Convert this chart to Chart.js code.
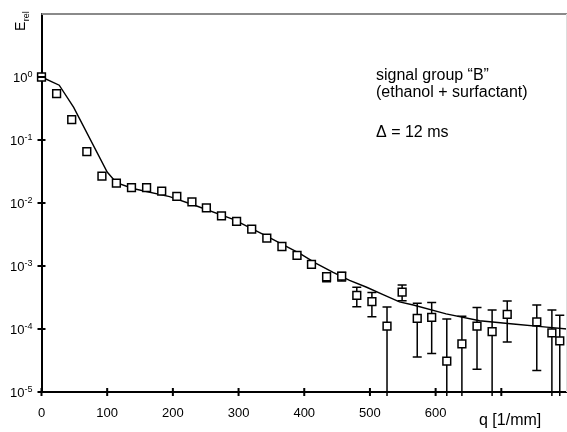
<!DOCTYPE html>
<html>
<head>
<meta charset="utf-8">
<script src="https://cdn.jsdelivr.net/npm/chart.js@4"></script>
<style>
  html, body { margin: 0; padding: 0; background: #fff; }
  #wrap { width: 567px; height: 432px; }
</style>
</head>
<body>
<div id="wrap"><canvas id="chart" width="567" height="432"></canvas></div>
<script>
// measured points (q in 1/mm, relative echo)
const qPoints = [0, 23, 46, 69, 92, 114, 137, 160, 183, 206, 229, 251, 274, 297, 320, 343, 366, 389,
    411, 434, 457, 480, 503, 526, 549, 572, 594, 617, 640, 663, 686, 709, 754, 777, 789];
const eValues = [1.0, 0.546, 0.211, 0.0656, 0.0267, 0.0206, 0.0176, 0.0176, 0.0154, 0.0127, 0.0104,
    0.00838, 0.00625, 0.00509, 0.00385, 0.00277, 0.00204, 0.00147, 0.00106, 0.000675, 0.000692,
    0.000342, 0.000271, 0.000111, 0.000386, 0.000148, 0.000153, 3.1e-5, 5.8e-5, 0.000111, 9.06e-5,
    0.000171, 0.000130, 8.7e-5, 6.5e-5];
// error bar limits (null = no bar, 0 = runs below the axis)
const errHigh = [null, null, null, null, null, null, null, null, null, null, null, null, null, null,
    null, null, null, null, null, 7.6e-4, 7.9e-4, 4.6e-4, 3.8e-4, 2.24e-4, 5.0e-4, 2.56e-4, 2.64e-4,
    1.44e-4, 1.6e-4, 2.2e-4, 2.0e-4, 2.77e-4, 2.4e-4, 2.0e-4, 1.66e-4];
const errLow = [null, null, null, null, null, null, null, null, null, null, null, null, null, null,
    null, null, null, null, null, 5.6e-4, 5.8e-4, 2.25e-4, 1.56e-4, 0, 2.8e-4, 3.6e-5, 4.1e-5,
    0, 0, 2.3e-5, 0, 6.2e-5, 2.2e-5, 0, 0];

// model curve
const fitQ = [0, 27, 49, 100, 114, 139, 195, 232, 292, 342, 393, 418, 444, 469, 495, 520, 545, 566,
    616, 667, 718, 769, 800];
const fitE = [1.0, 0.74, 0.33, 0.031, 0.021, 0.017, 0.0126, 0.0093, 0.0055, 0.0030, 0.00158, 0.0011,
    0.00079, 0.00059, 0.00046, 0.00035, 0.00027, 0.00024, 0.000174, 0.000135, 0.00012, 0.000107, 0.0001];

const xTicks = [0, 100, 200, 300, 400, 500, 600, 700];
const xTickLabels = ['0', '100', '200', '300', '400', '500', '600', ''];
const yTicks = [1e0, 1e-1, 1e-2, 1e-3, 1e-4, 1e-5];
const yTickExps = ['0', '-1', '-2', '-3', '-4', '-5'];

const FONT = '"Liberation Sans", Arial, sans-serif';

// axes decorations, labels, error bars and annotation
const decorPlugin = {
    id: 'decor',
    beforeDatasetsDraw(chart) {
        const { ctx, scales: { x, y } } = chart;
        ctx.save();
        ctx.strokeStyle = '#000';
        ctx.lineWidth = 1.5;
        for (let i = 0; i < qPoints.length; i++) {
            if (errHigh[i] == null) continue;
            const px = x.getPixelForValue(qPoints[i]);
            const top = y.getPixelForValue(errHigh[i]);
            const low = errLow[i] > 0 ? y.getPixelForValue(errLow[i]) : y.bottom + 4;
            ctx.beginPath();
            ctx.moveTo(px, top);
            ctx.lineTo(px, low);
            ctx.moveTo(px - 4.5, top);
            ctx.lineTo(px + 4.5, top);
            if (errLow[i] > 0) {
                ctx.moveTo(px - 4.5, low);
                ctx.lineTo(px + 4.5, low);
            }
            ctx.stroke();
        }
        ctx.restore();
    },
    afterDraw(chart) {
        const { ctx, chartArea: a, scales: { x, y } } = chart;
        ctx.save();
        // grey frame on top and right
        ctx.strokeStyle = '#8a8a8a';
        ctx.lineWidth = 2;
        ctx.beginPath();
        ctx.moveTo(a.left, a.top);
        ctx.lineTo(a.right, a.top);
        ctx.stroke();
        ctx.strokeStyle = '#dddddd';
        ctx.lineWidth = 1;
        ctx.beginPath();
        ctx.moveTo(a.right - 0.5, a.top);
        ctx.lineTo(a.right - 0.5, a.bottom);
        ctx.stroke();

        // tick marks crossing the axes
        ctx.strokeStyle = '#000';
        ctx.lineWidth = 2;
        ctx.beginPath();
        xTicks.forEach(v => {
            const px = x.getPixelForValue(v);
            ctx.moveTo(px, a.bottom - 4);
            ctx.lineTo(px, a.bottom + 4);
        });
        yTicks.forEach(v => {
            const py = y.getPixelForValue(v);
            ctx.moveTo(a.left - 4, py);
            ctx.lineTo(a.left + 4, py);
        });
        ctx.stroke();

        ctx.fillStyle = '#000';
        // x tick labels
        ctx.font = '13px ' + FONT;
        ctx.textAlign = 'center';
        ctx.textBaseline = 'alphabetic';
        xTicks.forEach((v, i) => {
            ctx.fillText(xTickLabels[i], x.getPixelForValue(v), a.bottom + 24.5);
        });
        // y tick labels 10^n
        yTicks.forEach((v, i) => {
            const py = y.getPixelForValue(v);
            ctx.font = '9px ' + FONT;
            const wExp = ctx.measureText(yTickExps[i]).width;
            ctx.font = '13px ' + FONT;
            const wBase = ctx.measureText('10').width;
            const right = a.left - 9;
            ctx.textAlign = 'left';
            ctx.fillText('10', right - wExp - wBase, py + 5);
            ctx.font = '9px ' + FONT;
            ctx.fillText(yTickExps[i], right - wExp, py - 0.5);
        });

        // axis titles
        ctx.textAlign = 'left';
        ctx.font = '16px ' + FONT;
        ctx.fillText('q [1/mm]', 479, 425);

        ctx.save();
        ctx.translate(25, 31);
        ctx.rotate(-Math.PI / 2);
        ctx.font = '14px ' + FONT;
        ctx.fillText('E', 0, 0);
        const wE = ctx.measureText('E').width;
        ctx.font = '9px ' + FONT;
        ctx.fillText('rel', wE + 0.5, 3.5);
        ctx.restore();

        // annotation
        ctx.font = '16px ' + FONT;
        ctx.fillText('signal group \u201CB\u201D', 376, 80);
        ctx.fillText('(ethanol + surfactant)', 376, 97);
        ctx.fillText('\u0394 = 12 ms', 376, 137);
        ctx.restore();
    }
};

new Chart(document.getElementById('chart'), {
    type: 'scatter',
    data: {
        datasets: [
            {
                label: 'model',
                data: fitQ.map((q, i) => ({ x: q, y: fitE[i] })),
                showLine: true,
                borderColor: '#000',
                borderWidth: 1.4,
                pointRadius: 0,
                tension: 0,
                clip: false,
                order: 2
            },
            {
                label: 'signal group B',
                data: qPoints.map((q, i) => ({ x: q, y: eValues[i] })),
                showLine: false,
                pointStyle: 'rect',
                pointRadius: 5.5,
                pointBorderWidth: 1.5,
                pointBorderColor: '#000',
                pointBackgroundColor: '#fff',
                clip: false,
                order: 1
            }
        ]
    },
    options: {
        responsive: false,
        animation: false,
        layout: { autoPadding: false, padding: { left: 41.5, top: 14, right: 0, bottom: 40 } },
        plugins: {
            legend: { display: false },
            tooltip: { enabled: false }
        },
        scales: {
            x: {
                type: 'linear',
                min: 0,
                max: 800,
                ticks: { display: false },
                grid: { display: false, drawTicks: false },
                border: { display: true, color: '#000', width: 2 }
            },
            y: {
                type: 'logarithmic',
                min: 1e-5,
                max: 10,
                ticks: { display: false },
                grid: { display: false, drawTicks: false },
                border: { display: true, color: '#000', width: 2 }
            }
        }
    },
    plugins: [decorPlugin]
});
</script>
</body>
</html>
